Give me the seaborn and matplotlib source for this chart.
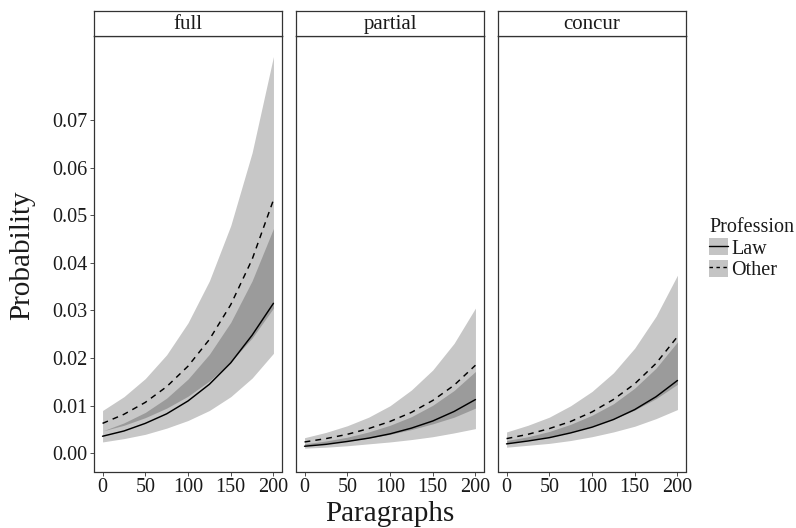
import numpy as np
import pandas as pd
import matplotlib
matplotlib.use("Agg")
import matplotlib.pyplot as plt
import seaborn as sns
from matplotlib.patches import Patch
from matplotlib.lines import Line2D
from matplotlib.legend_handler import HandlerTuple

# ---------------- data ----------------
paragraphs = [0, 25, 50, 75, 100, 125, 150, 175, 200]
facets = ["full", "partial", "concur"]
professions = ["Law", "Other"]

# full
full_law     = [0.0036, 0.0047, 0.0063, 0.0083, 0.0110, 0.0145, 0.0190, 0.0248, 0.0315]
full_law_lo  = [0.0024, 0.0031, 0.0040, 0.0053, 0.0069, 0.0090, 0.0119, 0.0158, 0.0210]
full_law_hi  = [0.0047, 0.0064, 0.0086, 0.0116, 0.0156, 0.0208, 0.0275, 0.0362, 0.0472]
full_oth     = [0.0063, 0.0082, 0.0107, 0.0140, 0.0183, 0.0239, 0.0312, 0.0407, 0.0532]
full_oth_lo  = [0.0047, 0.0059, 0.0075, 0.0095, 0.0120, 0.0152, 0.0192, 0.0242, 0.0305]
full_oth_hi  = [0.0090, 0.0119, 0.0157, 0.0207, 0.0274, 0.0362, 0.0478, 0.0631, 0.0833]
# partial
part_law     = [0.0015, 0.0019, 0.0025, 0.0032, 0.0041, 0.0053, 0.0068, 0.0088, 0.0113]
part_law_lo  = [0.0011, 0.0013, 0.0016, 0.0020, 0.0024, 0.0029, 0.0035, 0.0043, 0.0052]
part_law_hi  = [0.0020, 0.0026, 0.0034, 0.0045, 0.0059, 0.0077, 0.0101, 0.0132, 0.0172]
part_oth     = [0.0024, 0.0031, 0.0040, 0.0052, 0.0067, 0.0086, 0.0111, 0.0143, 0.0185]
part_oth_lo  = [0.0017, 0.0021, 0.0026, 0.0032, 0.0040, 0.0050, 0.0062, 0.0076, 0.0095]
part_oth_hi  = [0.0033, 0.0044, 0.0058, 0.0076, 0.0100, 0.0133, 0.0175, 0.0231, 0.0305]
# concur
conc_law     = [0.0020, 0.0026, 0.0033, 0.0043, 0.0055, 0.0071, 0.0092, 0.0119, 0.0153]
conc_law_lo  = [0.0013, 0.0017, 0.0021, 0.0027, 0.0035, 0.0045, 0.0057, 0.0073, 0.0092]
conc_law_hi  = [0.0027, 0.0035, 0.0046, 0.0061, 0.0080, 0.0104, 0.0137, 0.0179, 0.0234]
conc_oth     = [0.0031, 0.0040, 0.0052, 0.0067, 0.0087, 0.0113, 0.0146, 0.0189, 0.0245]
conc_oth_lo  = [0.0022, 0.0028, 0.0035, 0.0045, 0.0057, 0.0072, 0.0091, 0.0115, 0.0145]
conc_oth_hi  = [0.0045, 0.0059, 0.0076, 0.0100, 0.0130, 0.0169, 0.0221, 0.0288, 0.0374]

y_ticks = [0.00, 0.01, 0.02, 0.03, 0.04, 0.05, 0.06, 0.07]
y_tick_labels = ["0.00", "0.01", "0.02", "0.03", "0.04", "0.05", "0.06", "0.07"]
x_ticks = [0, 50, 100, 150, 200]

series = {
    ("full", "Law"): (full_law, full_law_lo, full_law_hi),
    ("full", "Other"): (full_oth, full_oth_lo, full_oth_hi),
    ("partial", "Law"): (part_law, part_law_lo, part_law_hi),
    ("partial", "Other"): (part_oth, part_oth_lo, part_oth_hi),
    ("concur", "Law"): (conc_law, conc_law_lo, conc_law_hi),
    ("concur", "Other"): (conc_oth, conc_oth_lo, conc_oth_hi),
}

rows = []
for (fac, prof), (mid, lo, hi) in series.items():
    for x, m, l, h in zip(paragraphs, mid, lo, hi):
        rows.append(dict(type=fac, Profession=prof, Paragraphs=x,
                         Probability=m, lo=l, hi=h))
df = pd.DataFrame(rows)

# ---------------- styling ----------------
sns.set_style("white")
plt.rcParams["font.family"] = ["Liberation Serif", "DejaVu Serif"]
TXT = "#1a1a1a"
FRAME = "#333333"

fig = plt.figure(figsize=(7.96, 5.28), dpi=100)
W, H = 796.0, 528.0
panel_lefts = [94, 296, 498]
panel_w = 188
top_px, bot_px = 36, 471.5
strip_top = 11

dash_map = {"Law": "", "Other": (4, 3.5)}

for i, fac in enumerate(facets):
    l = panel_lefts[i]
    ax = fig.add_axes([l / W, 1 - bot_px / H, panel_w / W, (bot_px - top_px) / H])
    sub = df[df["type"] == fac]
    for prof in professions:
        s = sub[sub["Profession"] == prof]
        ax.fill_between(s["Paragraphs"], s["lo"], s["hi"], color="black",
                        alpha=0.22, linewidth=0)
    sns.lineplot(data=sub, x="Paragraphs", y="Probability", style="Profession",
                 style_order=professions, dashes=dash_map, color="black",
                 linewidth=1.05, legend=False, ax=ax)
    ax.set_xlim(-10, 210)
    ax.set_ylim(-0.0038, 0.0876)
    ax.set_xticks(x_ticks)
    ax.set_xticklabels([str(t) for t in x_ticks], fontsize=14.5, color=TXT)
    ax.set_yticks(y_ticks)
    if i == 0:
        ax.set_yticklabels(y_tick_labels, fontsize=14.5, color=TXT)
        ax.tick_params(axis="y", length=3, width=0.6, color=FRAME, pad=1.5, left=True)
    else:
        ax.set_yticklabels([])
        ax.tick_params(axis="y", length=0)
    ax.tick_params(axis="x", length=3, width=0.6, color=FRAME, pad=1.5, bottom=True)
    ax.set_xlabel("")
    ax.set_ylabel("")
    for sp in ax.spines.values():
        sp.set_color(FRAME)
        sp.set_linewidth(0.9)
        sp.set_visible(True)
    ax.grid(False)

    # strip
    sax = fig.add_axes([l / W, 1 - top_px / H, panel_w / W, (top_px - strip_top) / H])
    sax.set_xticks([])
    sax.set_yticks([])
    sax.set_facecolor("white")
    for sp in sax.spines.values():
        sp.set_color(FRAME)
        sp.set_linewidth(0.9)
        sp.set_visible(True)
    sax.text(0.5, 0.45, fac, ha="center", va="center", fontsize=15, color=TXT,
             transform=sax.transAxes)

fig.text(390 / W, 1 - 514 / H, "Paragraphs", ha="center", va="center",
         fontsize=21, color=TXT)
fig.text(22 / W, 1 - 255 / H, "Probability", ha="center", va="center",
         rotation=90, fontsize=21, color=TXT)

# legend
key = "#c4c4c4"
h_law = (Patch(facecolor=key, edgecolor="none"),
         Line2D([], [], color="black", linewidth=1.0))
h_oth = (Patch(facecolor=key, edgecolor="none"),
         Line2D([], [], color="black", linewidth=1.0, dashes=(2.5, 2.5)))
leg = fig.legend(handles=[h_law, h_oth], labels=professions,
                 handler_map={tuple: HandlerTuple(ndivide=1, pad=0)},
                 loc="upper left", bbox_to_anchor=(709 / W, 1 - 218 / H),
                 frameon=False, title="Profession", fontsize=14.5,
                 title_fontsize=14.5, handlelength=0.95, handleheight=0.95,
                 handletextpad=0.15, labelspacing=0.05, borderaxespad=0,
                 borderpad=0)
leg._legend_box.align = "left"
for t in leg.get_texts():
    t.set_color(TXT)
leg.get_title().set_color(TXT)

fig.savefig("out.png", dpi=100)
